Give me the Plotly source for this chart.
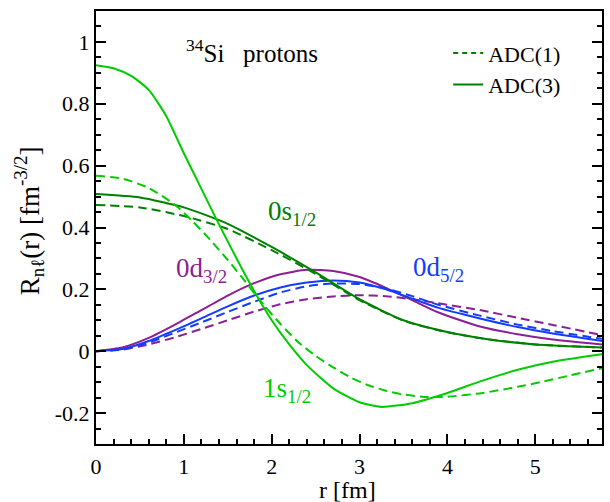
import plotly.graph_objects as go

# ---------------- data ----------------
r_1s3 = [0, 0.2, 0.4, 0.6, 0.8, 1.0, 1.2, 1.4, 1.6, 1.8, 2.0, 2.2, 2.4, 2.7, 3.0, 3.25, 3.6, 4.0, 4.4, 4.8, 5.2, 5.76]
y_1s3 = [0.925, 0.915, 0.89, 0.845, 0.76, 0.64, 0.525, 0.41, 0.3, 0.195, 0.1, 0.022, -0.045, -0.12, -0.165, -0.18, -0.168, -0.135, -0.095, -0.06, -0.034, -0.01]

r_1s1 = [0, 0.3, 0.6, 0.9, 1.1, 1.3, 1.5, 1.7, 1.9, 2.1, 2.3, 2.5, 2.7, 2.9, 3.1, 3.3, 3.5, 3.77, 4.0, 4.4, 4.8, 5.06, 5.4, 5.76]
y_1s1 = [0.567, 0.558, 0.528, 0.473, 0.42, 0.36, 0.295, 0.225, 0.153, 0.088, 0.03, -0.015, -0.052, -0.085, -0.11, -0.128, -0.14, -0.148, -0.147, -0.135, -0.115, -0.1, -0.078, -0.055]

r_0s = [0, 0.5, 1.0, 1.5, 2.0, 2.5, 3.0, 3.5, 4.0, 4.5, 5.0, 5.76]
y_0s3 = [0.508, 0.497, 0.465, 0.412, 0.337, 0.255, 0.168, 0.1, 0.062, 0.037, 0.022, 0.012]
y_0s1 = [0.473, 0.465, 0.437, 0.395, 0.327, 0.25, 0.165, 0.099, 0.061, 0.037, 0.022, 0.012]

r_d = [0, 0.3, 0.6, 0.9, 1.2, 1.5, 1.8, 2.1, 2.4, 2.7, 3.0, 3.3, 3.6, 3.9, 4.37, 4.8, 5.2, 5.76]
y_d32_3 = [0, 0.012, 0.043, 0.086, 0.133, 0.18, 0.22, 0.249, 0.263, 0.259, 0.24, 0.205, 0.165, 0.125, 0.08, 0.055, 0.038, 0.022]
y_d32_1 = [0, 0.005, 0.022, 0.045, 0.072, 0.1, 0.128, 0.152, 0.168, 0.177, 0.181, 0.178, 0.168, 0.155, 0.133, 0.108, 0.085, 0.052]
y_d52_3 = [0, 0.007, 0.033, 0.068, 0.106, 0.145, 0.18, 0.206, 0.222, 0.229, 0.222, 0.2, 0.17, 0.14, 0.106, 0.078, 0.057, 0.033]
y_d52_1 = [0, 0.006, 0.028, 0.06, 0.093, 0.127, 0.16, 0.19, 0.21, 0.219, 0.217, 0.203, 0.178, 0.15, 0.115, 0.086, 0.065, 0.04]

y_tickvals = [-0.2, 0, 0.2, 0.4, 0.6, 0.8, 1]
y_ticktext = ["-0.2", "0", "0.2", "0.4", "0.6", "0.8", "1"]
x_tickvals = [0, 1, 2, 3, 4, 5]
x_ticktext = ["0", "1", "2", "3", "4", "5"]

# ---------------- styles ----------------
C_BRIGHT = "rgb(0,204,0)"
C_DARK = "rgb(0,128,0)"
C_PURPLE = "rgb(140,30,150)"
C_BLUE = "rgb(20,60,255)"
DASH = "9px,5px"
FONT = "Liberation Serif"

fig = go.Figure()

def add(x, y, color, dash):
    fig.add_trace(go.Scatter(x=x, y=y, mode="lines", showlegend=False,
                             line=dict(color=color, width=2, dash=dash, shape="spline", smoothing=0.6),
                             hoverinfo="skip"))

add(r_d, y_d32_1, C_PURPLE, DASH)
add(r_d, y_d32_3, C_PURPLE, "solid")
add(r_d, y_d52_1, C_BLUE, DASH)
add(r_d, y_d52_3, C_BLUE, "solid")
add(r_0s, y_0s1, C_DARK, DASH)
add(r_0s, y_0s3, C_DARK, "solid")
add(r_1s1, y_1s1, C_BRIGHT, DASH)
add(r_1s3, y_1s3, C_BRIGHT, "solid")

# legend entries
fig.add_trace(go.Scatter(x=[None], y=[None], mode="lines", name="ADC(1)",
                         line=dict(color=C_DARK, width=2, dash="5px,4px")))
fig.add_trace(go.Scatter(x=[None], y=[None], mode="lines", name="ADC(3)",
                         line=dict(color=C_DARK, width=2)))

ann = [
    dict(x=1.00, y=0.97, text="<sup>34</sup>Si   protons", color="black", size=25),
    dict(x=1.93, y=0.447, text="0s<sub>1/2</sub>", color=C_DARK, size=27),
    dict(x=0.89, y=0.262, text="0d<sub>3/2</sub>", color=C_PURPLE, size=27),
    dict(x=3.59, y=0.265, text="0d<sub>5/2</sub>", color=C_BLUE, size=27),
    dict(x=1.88, y=-0.127, text="1s<sub>1/2</sub>", color=C_BRIGHT, size=27),
]
for a in ann:
    fig.add_annotation(x=a["x"], y=a["y"], text=a["text"], showarrow=False,
                       xanchor="left", yanchor="middle",
                       font=dict(family=FONT, size=a["size"], color=a["color"]))

# axis titles
fig.add_annotation(x=0.498, y=-0.107, xref="paper", yref="paper", text="r [fm]",
                   showarrow=False, xanchor="center", yanchor="middle",
                   font=dict(family=FONT, size=24, color="black"))
fig.add_annotation(x=-0.132, y=0.515, xref="paper", yref="paper",
                   text="R<sub>nℓ</sub>(r) [fm<sup>-3/2</sup>]", textangle=-90,
                   showarrow=False, xanchor="center", yanchor="middle",
                   font=dict(family=FONT, size=27, color="black"))

axis_common = dict(showgrid=False, zeroline=False, showline=True, linecolor="black",
                   linewidth=2, ticks="inside", tickcolor="black", tickwidth=2,
                   ticklen=10, automargin=False,
                   tickfont=dict(family=FONT, size=22, color="black"))

fig.update_xaxes(range=[0, 5.76], tickvals=x_tickvals, ticktext=x_ticktext,
                 mirror=True, ticklabelstandoff=2,
                 minor=dict(ticks="inside", dtick=0.2, ticklen=5, tickwidth=1.5, tickcolor="black"),
                 **axis_common)
fig.update_yaxes(range=[-0.3, 1.1], tickvals=y_tickvals, ticktext=y_ticktext,
                 mirror="allticks", ticklabelstandoff=0,
                 minor=dict(ticks="inside", dtick=0.05, tick0=0, ticklen=5, tickwidth=1.5, tickcolor="black"),
                 **axis_common)

fig.update_layout(
    width=610, height=502,
    margin=dict(l=96, r=8, t=11, b=58),
    paper_bgcolor="white", plot_bgcolor="white",
    showlegend=True,
    legend=dict(x=0.696, y=0.951, xanchor="left", yanchor="top",
                bgcolor="rgba(0,0,0,0)", font=dict(family=FONT, size=22, color="black"),
                tracegroupgap=0, itemwidth=30),
)

fig.write_html("out.html", config={"displayModeBar": False},
               post_script="document.body.style.margin='0px';")
